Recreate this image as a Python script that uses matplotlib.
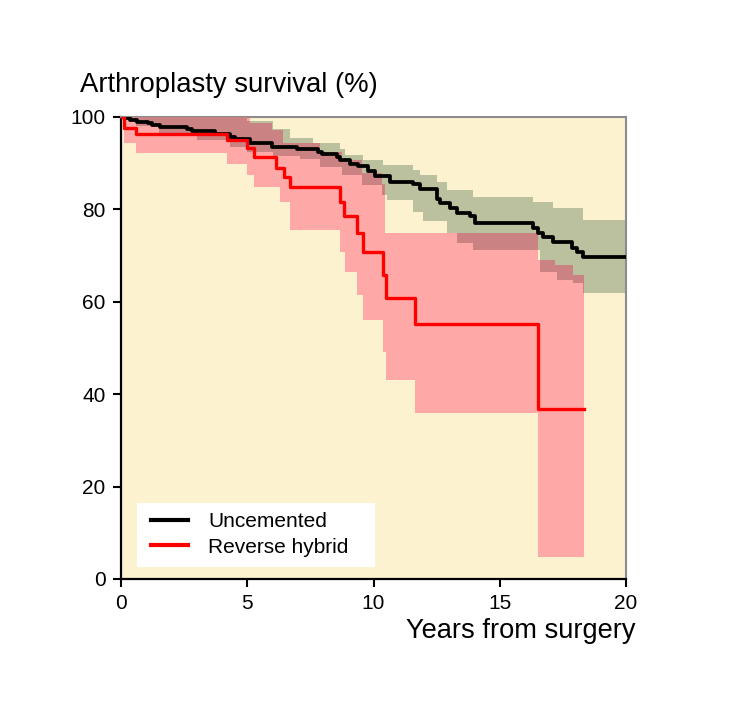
import numpy as np
import matplotlib
matplotlib.use("Agg")
import matplotlib.pyplot as plt
from matplotlib.patches import Rectangle

plt.rcParams['font.family'] = ['Liberation Sans', 'DejaVu Sans']

# Uncemented: Kaplan-Meier steps (years, survival %)
unc_t = [0, 0.1, 0.36, 0.62, 1.08, 1.21, 1.54, 2.6, 2.8, 3.72, 4.32, 4.51, 5.11, 5.97,
         6.96, 7.81, 7.95, 8.54, 8.67, 9.07, 9.4, 9.8, 10.06, 10.65, 11.58, 11.84,
         12.5, 12.63, 13.03, 13.3, 13.82, 14.02, 16.33, 16.53, 16.73, 17.12, 17.85,
         18.05, 18.31]
unc_s = [100, 99.7, 99.4, 99.0, 98.6, 98.3, 97.9, 97.3, 97.0, 96.4, 95.7, 95.2, 94.3, 93.6,
         93.0, 92.5, 91.9, 91.4, 90.7, 89.9, 89.3, 88.4, 87.3, 86.0, 85.4, 84.4,
         82.3, 81.4, 80.3, 79.3, 78.5, 77.0, 75.9, 74.8, 74.0, 73.0, 71.6,
         70.8, 69.8]
unc_end = 20.0

unc_hi_t = [0, 5.0, 6.0, 6.69, 7.62, 8.67, 8.87, 9.6, 10.39, 11.58, 11.84, 12.5, 12.9,
            13.95, 16.33, 17.12, 18.31]
unc_hi = [100, 99.2, 97.5, 95.5, 94.3, 93.0, 91.8, 90.7, 89.6, 88.5, 87.4, 86.0, 84.2,
          82.7, 81.7, 80.2, 77.7]
unc_lo_t = [0, 0.6, 1.5, 3.0, 4.3, 5.0, 6.0, 7.09, 7.88, 8.74, 9.53, 10.32, 10.52, 11.58,
            11.97, 12.9, 13.3, 13.95, 16.6, 17.25, 17.91, 18.31]
unc_lo = [99.5, 98.0, 96.5, 95.0, 93.5, 92.5, 91.5, 91.0, 89.2, 87.4, 85.3, 83.1, 82.0, 79.5,
          77.4, 74.8, 72.7, 71.2, 66.5, 64.7, 64.0, 61.8]

# Reverse hybrid
rev_t = [0, 0.1, 0.6, 4.2, 5.0, 5.25, 6.15, 6.45, 6.7, 8.67, 8.85, 9.33, 9.6, 10.36,
         10.5, 11.64, 16.5]
rev_s = [100, 97.7, 96.3, 95.0, 93.2, 91.4, 88.9, 87.1, 84.9, 81.7, 78.6, 75.0, 70.8, 65.8,
         60.8, 55.1, 36.8]
rev_end = 18.35

rev_hi_t = [0, 5.11, 5.97, 6.4, 7.88, 8.74, 9.53, 10.32, 10.46, 16.5, 17.2, 17.9]
rev_hi = [100, 98.6, 97.2, 94.4, 92.5, 90.7, 87.8, 85.6, 75.0, 69.0, 68.0, 65.8]
rev_lo_t = [0, 0.1, 0.6, 4.2, 5.0, 5.25, 6.3, 6.7, 8.67, 8.87, 9.33, 9.6, 10.36, 10.5,
            11.64, 16.5]
rev_lo = [100, 94.3, 92.1, 89.8, 87.4, 84.9, 81.7, 75.5, 70.8, 66.5, 61.5, 56.1, 49.2, 43.1,
          35.9, 4.8]

labels = ['Uncemented', 'Reverse hybrid']

bg = '#fcf2cf'
pink = '#ffa8a8'
green = '#bbc09e'
dark = '#cb8282'


def step_at(t, v, x):
    idx = np.searchsorted(np.asarray(t), x, side='right') - 1
    return np.asarray(v)[np.clip(idx, 0, None)]


def band(lo_t, lo, hi_t, hi, end):
    grid = np.unique(np.concatenate([lo_t, hi_t, [end]]))
    grid = grid[grid <= end]
    return grid, step_at(lo_t, lo, grid), step_at(hi_t, hi, grid)


fig = plt.figure(figsize=(7.56, 7.2), dpi=100)
ax = fig.add_axes([121 / 756, 1 - 579 / 720, 505 / 756, 462 / 720])
ax.set_facecolor(bg)

g_x, g_lo, g_hi = band(unc_lo_t, unc_lo, unc_hi_t, unc_hi, unc_end)
r_x, r_lo, r_hi = band(rev_lo_t, rev_lo, rev_hi_t, rev_hi, rev_end)
ax.fill_between(g_x, g_lo, g_hi, step='post', color=green, lw=0, zorder=1)
ax.fill_between(r_x, r_lo, r_hi, step='post', color=pink, lw=0, zorder=2)

# overlap of the two confidence bands
o_x = np.unique(np.concatenate([g_x, r_x]))
o_x = o_x[o_x <= rev_end]
o_lo = np.maximum(step_at(g_x, g_lo, o_x), step_at(r_x, r_lo, o_x))
o_hi = np.minimum(step_at(g_x, g_hi, o_x), step_at(r_x, r_hi, o_x))
o_hi = np.maximum(o_hi, o_lo)
ax.fill_between(o_x, o_lo, o_hi, step='post', color=dark, lw=0, zorder=3)

ax.step(unc_t + [unc_end], unc_s + [unc_s[-1]], where='post', color='black', lw=2.7,
        zorder=6, label=labels[0])
ax.step(rev_t + [rev_end], rev_s + [rev_s[-1]], where='post', color='#ff0000', lw=2.4,
        zorder=6, label=labels[1])

ax.set_xlim(0, 20)
ax.set_ylim(0, 100)
ax.set_xticks([0, 5, 10, 15, 20])
ax.set_yticks([0, 20, 40, 60, 80, 100])
ax.tick_params(direction='out', length=6, width=1.5, labelsize=15, pad=5, color='black')
for s in ['left', 'bottom']:
    ax.spines[s].set_color('black')
    ax.spines[s].set_linewidth(1.6)
for s in ['top', 'right']:
    ax.spines[s].set_color('#8c8c8c')
    ax.spines[s].set_linewidth(1.5)

ax.add_patch(Rectangle((0.032, 0.026), 0.471, 0.1385, transform=ax.transAxes,
                       facecolor='white', edgecolor='none', zorder=7))
leg = ax.legend(loc='upper left', bbox_to_anchor=(0.047, 0.158), frameon=False, fontsize=15,
                handlelength=1.8, handletextpad=0.95, labelspacing=0.3, borderpad=0.3,
                borderaxespad=0)
leg.set_zorder(8)
for line in leg.get_lines():
    line.set_linewidth(3.0)

fig.text(80 / 756, 1 - 92 / 720, 'Arthroplasty survival (%)', fontsize=19.8, va='baseline')
fig.text(636 / 756, 1 - 638 / 720, 'Years from surgery', fontsize=19.6, va='baseline', ha='right')

fig.savefig('out.png', dpi=100, facecolor='white')
